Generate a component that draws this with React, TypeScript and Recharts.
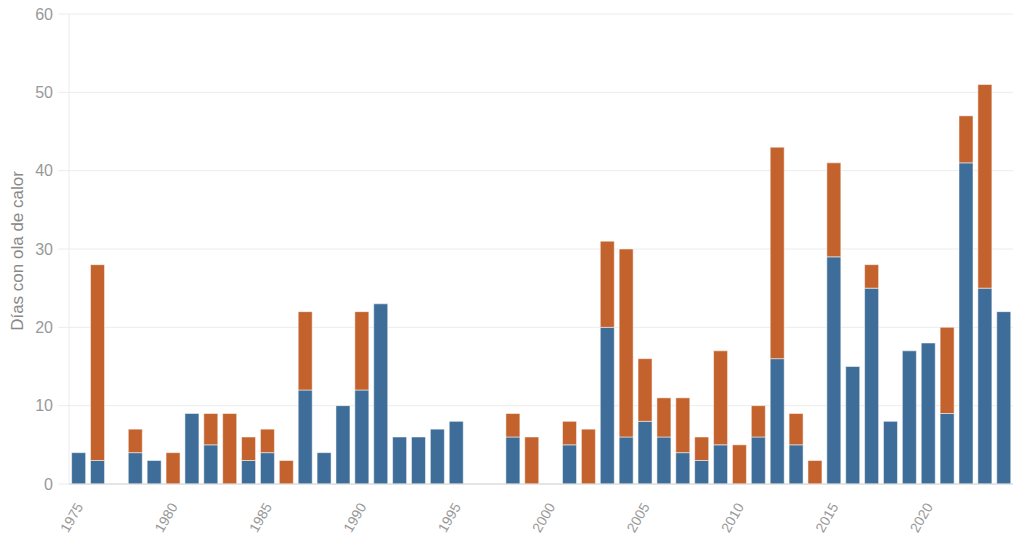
import { BarChart, Bar, XAxis, YAxis, CartesianGrid, Label } from 'recharts'

const years = [
  1975, 1976, 1977, 1978, 1979, 1980, 1981, 1982, 1983, 1984,
  1985, 1986, 1987, 1988, 1989, 1990, 1991, 1992, 1993, 1994,
  1995, 1996, 1997, 1998, 1999, 2000, 2001, 2002, 2003, 2004,
  2005, 2006, 2007, 2008, 2009, 2010, 2011, 2012, 2013, 2014,
  2015, 2016, 2017, 2018, 2019, 2020, 2021, 2022, 2023, 2024,
]

const diasAzul = [
  4, 3, 0, 4, 3, 0, 9, 5, 0, 3,
  4, 0, 12, 4, 10, 12, 23, 6, 6, 7,
  8, 0, 0, 6, 0, 0, 5, 0, 20, 6,
  8, 6, 4, 3, 5, 0, 6, 16, 5, 0,
  29, 15, 25, 8, 17, 18, 9, 41, 25, 22,
]

const diasNaranja = [
  0, 25, 0, 3, 0, 4, 0, 4, 9, 3,
  3, 3, 10, 0, 0, 10, 0, 0, 0, 0,
  0, 0, 0, 3, 6, 0, 3, 7, 11, 24,
  8, 5, 7, 3, 12, 5, 4, 27, 4, 3,
  12, 0, 3, 0, 0, 0, 11, 6, 26, 0,
]

const xTicks = [1975, 1980, 1985, 1990, 1995, 2000, 2005, 2010, 2015, 2020]
const yTicks = [0, 10, 20, 30, 40, 50, 60]

const AZUL = '#3d6d98'
const NARANJA = '#c4622d'
const FONT = '"Liberation Sans", Arial, Helvetica, sans-serif'

const data = years.map((year, i) => ({
  year,
  azul: diasAzul[i],
  naranja: diasNaranja[i],
}))

function YearTick(props: any) {
  const { x, payload } = props
  return (
    <text
      transform={`translate(${x + 1}, 504) rotate(-60)`}
      textAnchor="end"
      dy="0.35em"
      fontSize={14}
      fill="#999"
      fontFamily={FONT}
    >
      {payload.value}
    </text>
  )
}

export default function App() {
  return (
    <div style={{ position: 'absolute', left: 0, top: 0, background: '#fff' }}>
      <BarChart
        width={1024}
        height={540}
        data={data}
        margin={{ top: 14, right: 11, left: 0, bottom: 0 }}
        barCategoryGap="14%"
      >
        <CartesianGrid vertical={false} stroke="#ececec" />
        <XAxis
          dataKey="year"
          type="category"
          ticks={xTicks}
          interval={0}
          height={56}
          tickLine={false}
          axisLine={{ stroke: '#d4d4d4' }}
          tick={<YearTick />}
        />
        <YAxis
          domain={[0, 60]}
          ticks={yTicks}
          width={69}
          tickSize={11}
          tickMargin={5}
          tickLine={{ stroke: '#ececec' }}
          axisLine={{ stroke: '#ececec' }}
          tick={{ fontSize: 16, fill: '#999', fontFamily: FONT }}
        >
          <Label
            value="Días con ola de calor"
            angle={-90}
            position="center"
            dx={-18}
            dy={2}
            style={{ fontSize: 17, fill: '#888', fontFamily: FONT }}
          />
        </YAxis>
        <Bar
          dataKey="azul"
          stackId="a"
          fill={AZUL}
          stroke="rgba(255,255,255,0.5)"
          strokeWidth={1}
          isAnimationActive={false}
        />
        <Bar
          dataKey="naranja"
          stackId="a"
          fill={NARANJA}
          stroke="rgba(255,255,255,0.5)"
          strokeWidth={1}
          isAnimationActive={false}
        />
      </BarChart>
    </div>
  )
}
